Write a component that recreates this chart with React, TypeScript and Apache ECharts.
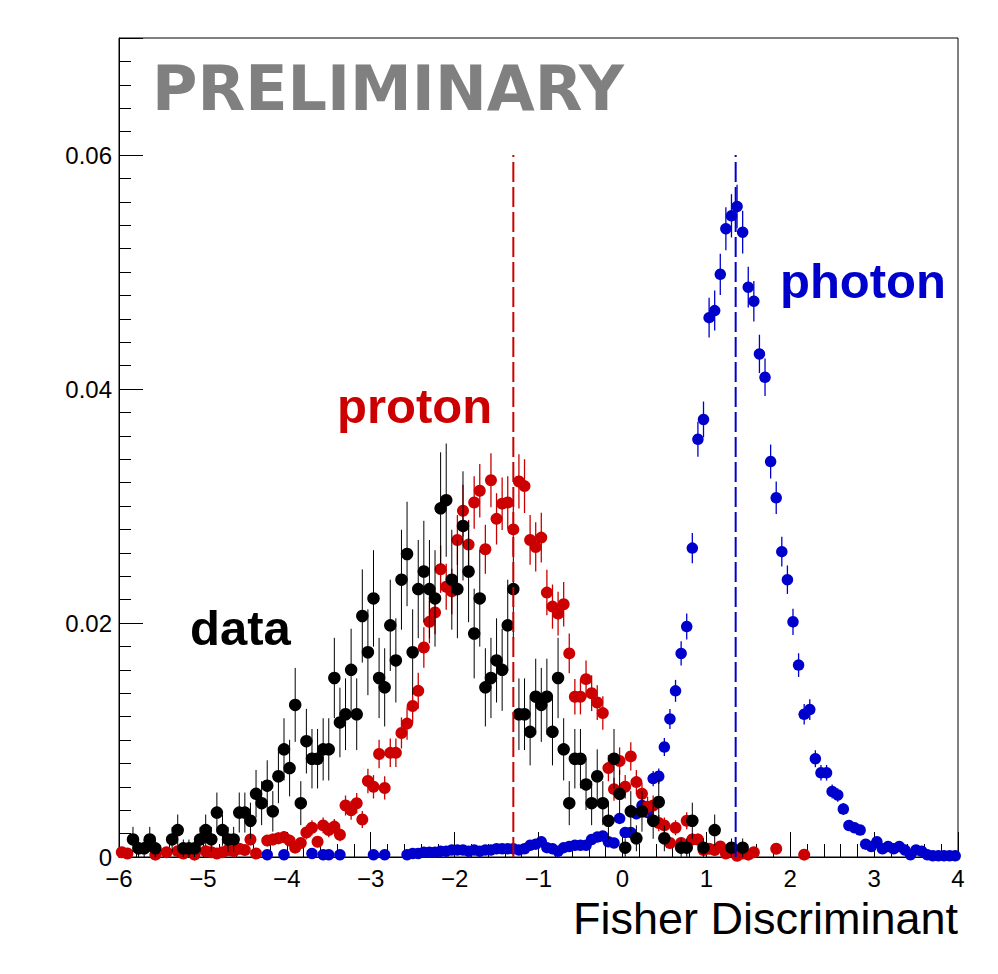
import React, { useEffect, useRef } from "react";
import * as echarts from "echarts";

// Histogram binning: 150 bins from -6 to 4
const X_MIN = -6;
const X_MAX = 4;
const N_BINS = 150;
const binCenters: number[] = Array.from(
  { length: N_BINS },
  (_, i) => X_MIN + ((i + 0.5) * (X_MAX - X_MIN)) / N_BINS
);
const nulls = (k: number) => Array(k).fill(null);

// Normalised bin contents (null = empty bin)
const dataValues: (number | null)[] = [
  null, null, 0.0015, 0.00074, 0.00074, 0.0015, 0.00074, null, null, 0.0015,
  0.0023, 0.00074, 0.00074, 0.00074, 0.0015, 0.0023, 0.0015, 0.0038, 0.0023, 0.0015,
  0.0015, 0.0038, 0.0038, 0.0031, 0.0054, 0.0046, 0.0061, 0.0039, 0.0069, 0.0092,
  0.0076, 0.013, 0.0046, 0.0099, 0.0084, 0.0084, 0.0092, 0.0092, 0.0153, 0.0115,
  0.0122, 0.016, 0.0122, 0.0206, 0.0175, 0.0221, 0.0153, 0.0145, 0.0198, 0.0168,
  0.0237, 0.0259, 0.0175, 0.0229, 0.0244, 0.0229, 0.0221, 0.0298, 0.0305, 0.0237,
  0.0229, 0.0283, 0.0244, 0.0191, 0.0221, 0.0145, 0.0153, 0.0168, 0.016, 0.0198,
  0.0229, 0.0122, 0.0122, 0.0107, 0.0137, 0.013, 0.0137, 0.0107, 0.0153, 0.0092,
  0.0046, 0.0084, 0.0084, 0.0062, 0.0046, 0.0069, 0.0046, 0.0031, 0.0084, 0.0054,
  0.0008, 0.0039, 0.0016, 0.0039, null, 0.0031, 0.0047, 0.0016, null, null,
  0.0008, 0.0008, 0.0031, null, 0.0008, null, 0.0023, null, null, 0.0008,
  null, 0.0008, ...nulls(38),
];

const protonValues: (number | null)[] = [
  0.0004, 0.0003, null, null, null, null, 0.0002, null, 0.0004, null,
  0.0005, 0.0003, null, 0.0002, null, 0.0005, 0.0004, 0.0003, 0.0004, 0.0006,
  0.0005, 0.0007, 0.0006, 0.0015, 0.0003, null, 0.0014, 0.0015, 0.0016, 0.0017,
  0.0014, 0.0008, 0.0012, 0.0021, 0.0025, 0.0013, 0.0027, 0.0023, 0.0026, 0.0019,
  0.0044, 0.004, 0.0046, 0.0032, 0.0065, 0.006, 0.0088, 0.0059, 0.0089, 0.0089,
  0.0106, 0.0114, 0.0129, 0.0142, 0.0179, 0.0201, 0.0209, 0.0246, 0.0231, 0.0227,
  0.0271, 0.0296, 0.0267, 0.0303, 0.0313, 0.0263, 0.0322, 0.0289, 0.0302, 0.0303,
  0.028, 0.0321, 0.0317, 0.0271, 0.0265, 0.0273, 0.0226, 0.0214, 0.0208, 0.0216,
  0.0174, 0.0137, 0.0137, 0.0152, 0.014, 0.0132, 0.0123, 0.0076, 0.0058, 0.0082,
  0.006, 0.0086, 0.0064, 0.0054, 0.0043, 0.0044, 0.0029, 0.0027, 0.0012, 0.0025,
  0.0012, 0.0031, 0.0015, 0.0015, 0.0006, 0.0007, 0.0006, 0.0009, 0.0003, 0.0006,
  0.0001, 0.0003, 0.0002, 0.0004, null, null, null, 0.0007, null, null,
  null, null, 0.0002, ...nulls(27),
];

const photonValues: (number | null)[] = [
  ...nulls(26),
  0.0002, null, null, 0.0002,
  null, null, null, null, 0.0003, null, 0.0002, 0.0002, null, 0.0002,
  null, null, null, null, null, 0.0002, null, 0.0002, null, null,
  null, 0.0002, 0.0003, 0.0003, 0.0004, 0.0004, 0.0004, 0.0005, 0.0005, 0.0006,
  0.0006, 0.0006, 0.0005, 0.0006, 0.0005, 0.0006, 0.0006, 0.0007, 0.0007, 0.0007,
  0.0007, 0.0006, 0.0007, 0.001, 0.0011, 0.0013, 0.0008, 0.0007, 0.0005, 0.0008,
  0.0009, 0.001, 0.001, 0.001, 0.0015, 0.0017, 0.0018, 0.0013, 0.0012, 0.0033,
  0.0021, 0.0021, 0.0037, 0.0044, 0.0038, 0.0067, 0.0069, 0.0094, 0.0118, 0.0142,
  0.0174, 0.0197, 0.0264, 0.0357, 0.0374, 0.0461, 0.0467, 0.0498, 0.0537, 0.0548,
  0.0556, 0.0534, 0.0487, 0.0475, 0.043, 0.041, 0.0338, 0.0307, 0.0261, 0.0237,
  0.0201, 0.0164, 0.0122, 0.0126, 0.0084, 0.0072, 0.0072, 0.0056, 0.0053, 0.0041,
  0.0027, 0.0025, 0.0023, 0.0011, 0.0009, 0.0013, 0.0007, 0.0009, 0.0007, 0.0009,
  0.0006, 0.0002, 0.0006, 0.0005, 0.0002, 0.0001, 0.0001, 0.0001, 0.0001, 0.0001,
];

// Number of entries behind each normalised histogram (sets the Poisson error bars)
const dataEntries = 1300;
const protonEntries = 6000;
const photonEntries = 16000;

// Vertical reference lines (x position) and their height
const protonCut = -1.3;
const photonCut = 1.35;
const cutHeight = 0.06;

const labelTexts = {
  preliminary: "PRELIMINARY",
  data: "data",
  proton: "proton",
  photon: "photon",
  xTitle: "Fisher Discriminant",
};

const RED = "#cc0000";
const BLUE = "#0000cc";
const BLACK = "#000000";

function points(values: (number | null)[], entries: number) {
  const pts: number[][] = [];
  values.forEach((v, i) => {
    if (v != null) pts.push([binCenters[i], v, Math.sqrt(v / entries)]);
  });
  return pts;
}

function errorSeries(pts: number[][], color: string, width: number, z: number) {
  return {
    type: "custom",
    data: pts,
    silent: true,
    z,
    encode: { x: 0, y: 1 },
    renderItem: (_params: any, api: any) => {
      const x = api.value(0);
      const y = api.value(1);
      const e = api.value(2);
      const lo = api.coord([x, Math.max(0, y - e)]);
      const hi = api.coord([x, y + e]);
      return {
        type: "line",
        shape: { x1: lo[0], y1: lo[1], x2: hi[0], y2: hi[1] },
        style: { stroke: color, lineWidth: width },
      };
    },
  };
}

function markerSeries(pts: number[][], color: string, size: number, z: number) {
  return {
    type: "scatter",
    data: pts.map((p) => [p[0], p[1]]),
    symbol: "circle",
    symbolSize: size,
    itemStyle: { color, opacity: 1 },
    silent: true,
    z,
  };
}

function cutSeries(x: number, color: string) {
  return {
    type: "line",
    data: [
      [x, 0],
      [x, cutHeight],
    ],
    showSymbol: false,
    symbol: "none",
    silent: true,
    z: 10,
    lineStyle: { color, width: 2, type: [20, 5] },
  };
}

export default function App() {
  const ref = useRef<HTMLDivElement>(null);

  useEffect(() => {
    document.body.style.margin = "0";
    if (!ref.current) return;
    const chart = echarts.init(ref.current, undefined, { renderer: "svg" });

    const dataPts = points(dataValues, dataEntries);
    const protonPts = points(protonValues, protonEntries);
    const photonPts = points(photonValues, photonEntries);

    const labelFont = {
      fontFamily: "Liberation Sans",
      fontSize: 24,
      lineHeight: 18,
      color: BLACK,
    };

    chart.setOption({
      animation: false,
      backgroundColor: "#ffffff",
      grid: {
        left: 119,
        right: 40,
        top: 38,
        bottom: 117,
        show: true,
        borderColor: BLACK,
        borderWidth: 1,
        backgroundColor: "transparent",
      },
      xAxis: {
        type: "value",
        min: X_MIN,
        max: X_MAX,
        interval: 1,
        axisLine: { show: true, onZero: false, lineStyle: { color: BLACK, width: 1 } },
        axisTick: { show: true, inside: true, length: 25, lineStyle: { color: BLACK, width: 1 } },
        minorTick: { show: true, splitNumber: 5, length: 13, lineStyle: { color: BLACK, width: 1 } },
        splitLine: { show: false },
        minorSplitLine: { show: false },
        axisLabel: {
          ...labelFont,
          margin: 12,
          formatter: (v: number) => (v < 0 ? "\u2212" + Math.abs(v) : String(v)),
        },
      },
      yAxis: [
        {
          type: "value",
          min: 0,
          max: 0.07,
          interval: 0.02,
          axisLine: { show: true, onZero: false, lineStyle: { color: BLACK, width: 1 } },
          axisTick: { show: true, inside: true, length: 24, lineStyle: { color: BLACK, width: 1 } },
          splitLine: { show: false },
          axisLabel: {
            ...labelFont,
            margin: 7,
            formatter: (v: number) => (v === 0 ? "0" : v > 0.065 ? "" : v.toFixed(2)),
          },
        },
        {
          type: "value",
          position: "left",
          min: 0,
          max: 0.07,
          interval: 0.002,
          axisLine: { show: false, onZero: false },
          axisTick: { show: true, inside: true, length: 12, lineStyle: { color: BLACK, width: 1 } },
          splitLine: { show: false },
          axisLabel: { show: false },
        },
      ],
      series: [
        errorSeries(photonPts, BLUE, 1.3, 2),
        markerSeries(photonPts, BLUE, 11.5, 3),
        errorSeries(protonPts, RED, 1.3, 4),
        markerSeries(protonPts, RED, 12, 5),
        errorSeries(dataPts, BLACK, 1, 6),
        markerSeries(dataPts, BLACK, 12.5, 7),
        cutSeries(protonCut, RED),
        cutSeries(photonCut, BLUE),
      ],
      graphic: [
        {
          type: "text",
          left: 152,
          top: 57,
          z: 20,
          style: {
            text: labelTexts.preliminary,
            fill: "#808080",
            font: 'bold 62px "DejaVu Sans"',
          },
        },
        {
          type: "text",
          left: 190,
          top: 603,
          z: 20,
          style: { text: labelTexts.data, fill: BLACK, font: 'bold 49px "Liberation Sans"' },
        },
        {
          type: "text",
          left: 337,
          top: 381,
          z: 20,
          style: { text: labelTexts.proton, fill: RED, font: 'bold 49px "Liberation Sans"' },
        },
        {
          type: "text",
          left: 780,
          top: 256,
          z: 20,
          style: { text: labelTexts.photon, fill: BLUE, font: 'bold 49px "Liberation Sans"' },
        },
        {
          type: "text",
          right: 40,
          top: 896,
          z: 20,
          style: { text: labelTexts.xTitle, fill: BLACK, font: '45px "Liberation Sans"' },
        },
      ],
    });

    return () => chart.dispose();
  }, []);

  return (
    <div
      ref={ref}
      style={{ position: "absolute", left: 0, top: 0, width: 998, height: 974, background: "#fff" }}
    />
  );
}
